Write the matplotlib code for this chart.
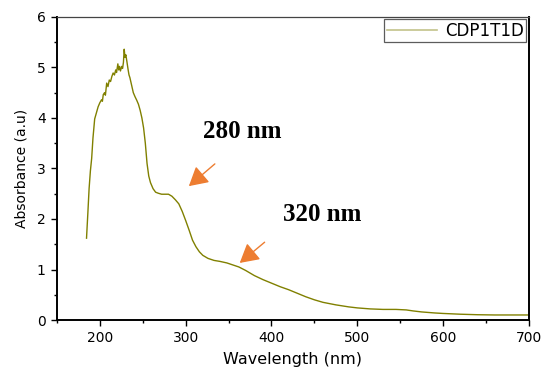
import matplotlib
matplotlib.use("Agg")
import matplotlib.pyplot as plt
from matplotlib.ticker import MultipleLocator
from matplotlib.lines import Line2D

# UV-Vis absorbance spectrum of sample CDP1T1D
wavelength = [184.5, 186, 187.5, 189, 190.5, 192, 194, 196, 198, 200, 202, 203, 204,
              205.5, 206.5, 208, 209.5, 211, 212.5, 214, 215.5, 217, 218.5, 219.5,
              221, 222, 223, 224, 225.5, 226.5, 227.5, 228.4, 229.3, 230.3, 231.5,
              233, 234, 235, 237, 239, 241, 243, 245, 247, 249, 251, 253, 255, 257,
              259, 262, 265, 268, 272, 276, 280, 284, 288, 292, 296, 300, 304, 308,
              312, 316, 320, 326, 333, 340, 348, 355, 362, 370, 380, 390, 400, 410,
              420, 430, 440, 450, 460, 475, 490, 500, 515, 530, 545, 557, 565, 575,
              590, 600, 620, 640, 660, 680, 700]
absorbance = [1.62, 2.1, 2.6, 2.95, 3.2, 3.6, 3.98, 4.1, 4.22, 4.3, 4.36, 4.33, 4.46,
              4.5, 4.45, 4.69, 4.62, 4.75, 4.72, 4.82, 4.89, 4.85, 4.95, 4.9,
              5.07, 4.95, 5.02, 4.93, 5.02, 4.98, 5.1, 5.36, 5.2, 5.25, 5.12,
              4.95, 4.85, 4.8, 4.65, 4.5, 4.42, 4.35, 4.27, 4.15, 4.0, 3.8, 3.5, 3.1, 2.85,
              2.72, 2.6, 2.53, 2.51, 2.49, 2.49, 2.49, 2.45, 2.38, 2.3, 2.15, 1.97, 1.78, 1.58,
              1.45, 1.35, 1.28, 1.22, 1.18, 1.16, 1.13, 1.09, 1.05, 0.98, 0.88, 0.8, 0.73, 0.66,
              0.6, 0.53, 0.46, 0.4, 0.35, 0.3, 0.26, 0.24, 0.22, 0.21, 0.21, 0.2, 0.18, 0.16,
              0.14, 0.13, 0.115, 0.105, 0.1, 0.1, 0.1]

series_name = "CDP1T1D"

# peak annotations: label text, label position, arrow tail, arrow tip
peak_labels = ["280 nm", "320 nm"]
label_xy = [(366.5, 3.74), (458.5, 2.08)]
arrow_tail = [(334, 3.09), (392, 1.54)]
arrow_tip = [(303.7, 2.65), (363, 1.13)]

line_color = "#808000"
arrow_color = "#ed7d31"

fig = plt.figure(figsize=(5.42, 3.67), dpi=100)
ax = fig.add_axes([0.105, 0.128, 0.871, 0.826])

ax.plot(wavelength, absorbance, color=line_color, lw=1.0)

ax.set_xlim(150, 700)
ax.set_ylim(0, 6)
ax.xaxis.set_major_locator(MultipleLocator(100))
ax.xaxis.set_minor_locator(MultipleLocator(50))
ax.yaxis.set_major_locator(MultipleLocator(1))
ax.yaxis.set_minor_locator(MultipleLocator(0.5))

ax.tick_params(which="both", direction="out", width=1.0, labelsize=10,
               top=False, right=False)
ax.tick_params(which="major", length=4, pad=4)
ax.tick_params(which="minor", length=2.5)

for side in ["left", "bottom", "right"]:
    ax.spines[side].set_linewidth(1.4)
    ax.spines[side].set_color("black")
ax.spines["top"].set_linewidth(0.9)
ax.spines["top"].set_color("#444444")

ax.set_xlabel("Wavelength (nm)", fontsize=11.5, labelpad=5)
ax.set_ylabel("Absorbance (a.u)", fontsize=10, labelpad=6)

for text, pos, tail, tip in zip(peak_labels, label_xy, arrow_tail, arrow_tip):
    ax.text(pos[0], pos[1], text, ha="center", va="center",
            fontsize=18, fontweight="bold", family="Liberation Serif")
    ax.annotate("", xy=tip, xytext=tail,
                arrowprops=dict(arrowstyle="-|>,head_length=0.8,head_width=0.45",
                                color=arrow_color, lw=1.0, mutation_scale=14.4,
                                shrinkA=0, shrinkB=0))

handle = Line2D([], [], color="#c2c28a", lw=1.2)
leg = ax.legend([handle], [series_name], loc="upper right", fontsize=12,
                frameon=True, fancybox=False, borderaxespad=0.15,
                handlelength=3.0, handletextpad=0.5, borderpad=0.15)
leg.get_frame().set_edgecolor("#333333")
leg.get_frame().set_linewidth(0.9)

fig.savefig("out.png", dpi=100)
